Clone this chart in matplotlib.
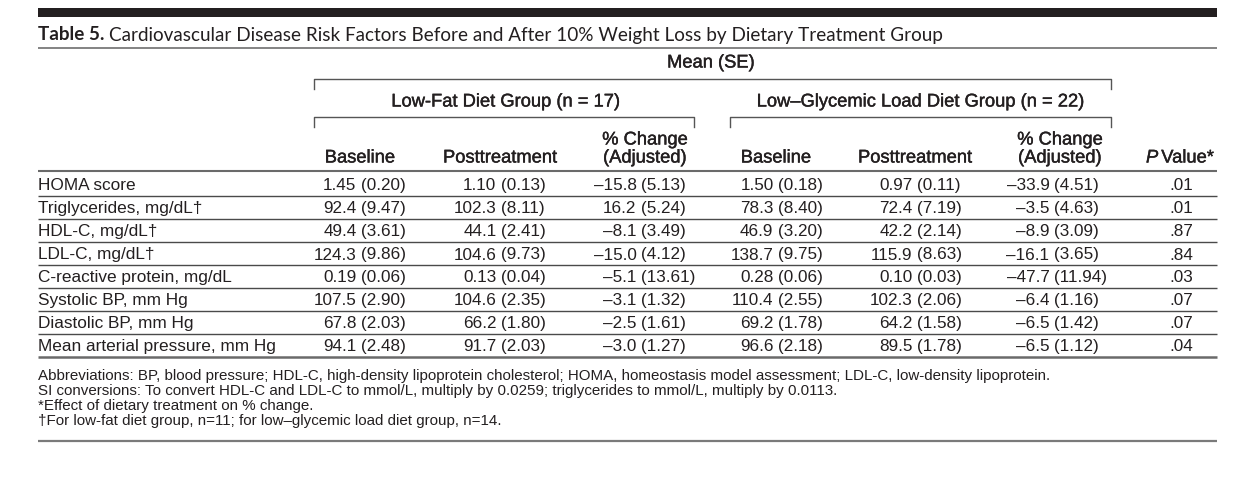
import matplotlib
matplotlib.use("Agg")
import matplotlib.pyplot as plt
import matplotlib.patheffects as pe

# ---------------- data ----------------
title_bold = "Table 5."
title_rest = "Cardiovascular Disease Risk Factors Before and After 10% Weight Loss by Dietary Treatment Group"
spanner = "Mean (SE)"
groups = ["Low-Fat Diet Group (n = 17)", "Low\u2013Glycemic Load Diet Group (n = 22)"]
col_heads = ["Baseline", "Posttreatment", "% Change\n(Adjusted)",
             "Baseline", "Posttreatment", "% Change\n(Adjusted)"]

row_labels = ["HOMA score", "Triglycerides, mg/dL\u2020", "HDL-C, mg/dL\u2020", "LDL-C, mg/dL\u2020",
              "C-reactive protein, mg/dL", "Systolic BP, mm Hg", "Diastolic BP, mm Hg",
              "Mean arterial pressure, mm Hg"]
row_decimals = [2, 1, 1, 1, 2, 1, 1, 1]

lf_base = [1.45, 92.4, 49.4, 124.3, 0.19, 107.5, 67.8, 94.1]
lf_base_se = [0.20, 9.47, 3.61, 9.86, 0.06, 2.90, 2.03, 2.48]
lf_post = [1.10, 102.3, 44.1, 104.6, 0.13, 104.6, 66.2, 91.7]
lf_post_se = [0.13, 8.11, 2.41, 9.73, 0.04, 2.35, 1.80, 2.03]
lf_chg = [-15.8, 16.2, -8.1, -15.0, -5.1, -3.1, -2.5, -3.0]
lf_chg_se = [5.13, 5.24, 3.49, 4.12, 13.61, 1.32, 1.61, 1.27]

lg_base = [1.50, 78.3, 46.9, 138.7, 0.28, 110.4, 69.2, 96.6]
lg_base_se = [0.18, 8.40, 3.20, 9.75, 0.06, 2.55, 1.78, 2.18]
lg_post = [0.97, 72.4, 42.2, 115.9, 0.10, 102.3, 64.2, 89.5]
lg_post_se = [0.11, 7.19, 2.14, 8.63, 0.03, 2.06, 1.58, 1.78]
lg_chg = [-33.9, -3.5, -8.9, -16.1, -47.7, -6.4, -6.5, -6.5]
lg_chg_se = [4.51, 4.63, 3.09, 3.65, 11.94, 1.16, 1.42, 1.12]

p_values = [0.01, 0.01, 0.87, 0.84, 0.03, 0.07, 0.07, 0.04]

footnotes = [
    "Abbreviations: BP, blood pressure; HDL-C, high-density lipoprotein cholesterol; HOMA, homeostasis model assessment; LDL-C, low-density lipoprotein.",
    "SI conversions: To convert HDL-C and LDL-C to mmol/L, multiply by 0.0259; triglycerides to mmol/L, multiply by 0.0113.",
    "*Effect of dietary treatment on % change.",
    "\u2020For low-fat diet group, n=11; for low\u2013glycemic load diet group, n=14.",
]

# ---------------- layout ----------------
W, H = 1252, 481
fig = plt.figure(figsize=(W / 100, H / 100), dpi=100)
ax = fig.add_axes([0, 0, 1, 1])
ax.set_xlim(0, W)
ax.set_ylim(H, 0)
ax.axis("off")
fig.canvas.draw()
r = fig.canvas.get_renderer()

TXT = "#231f20"
BODY = "Liberation Sans"
TFONT = "Lato"
L, R = 38, 1217

def tw(s, **kw):
    t = ax.text(0, 0, s, **kw)
    w = t.get_window_extent(renderer=r).width
    t.remove()
    return w

def fmt(v, d):
    s = f"{abs(v):.{d}f}"
    return ("\u2013" + s) if v < 0 else s

def hline(y, x0=L, x1=R, lw=1.0, c="#6d6d6d"):
    ax.plot([x0, x1], [y, y], color=c, lw=lw, solid_capstyle="butt")

# top bar and title
ax.add_patch(plt.Rectangle((L, 9), R - L, 9, color=TXT, lw=0))
TS = 13.6
ax.text(L, 35, title_bold, fontsize=TS, fontfamily=TFONT, fontweight="bold",
        color=TXT, va="center", ha="left")
x_after = L + tw(title_bold, fontsize=TS, fontfamily=TFONT, fontweight="bold") + 5
ax.text(x_after, 35, title_rest, fontsize=TS, fontfamily=TFONT, color=TXT, va="center", ha="left")
hline(48.5, lw=1.3, c="#7a7a7a")

HFS = 13.2
HPE = [pe.withStroke(linewidth=0.3, foreground=TXT)]
hkw = dict(fontsize=HFS, fontfamily=BODY, color=TXT, va="center", path_effects=HPE)

ax.text(711, 64, spanner, ha="center", **hkw)

def bracket(x0, x1, y, drop=10):
    ax.plot([x0, x0, x1, x1], [y + drop, y, y, y + drop], color="#555555", lw=1.0)

bracket(313.5, 1111, 79.5)
bracket(313.5, 694, 117.5)
bracket(729.5, 1111, 117.5)
ax.text(506, 103, groups[0], ha="center", **hkw)
ax.text(921, 103, groups[1], ha="center", **hkw)

head_x = [360, 500, 645, 776, 915, 1060]
for hx, h in zip(head_x, col_heads):
    lines = h.split("\n")
    if len(lines) == 1:
        ax.text(hx, 159, lines[0], ha="center", **hkw)
    else:
        ax.text(hx, 141, lines[0], ha="center", **hkw)
        ax.text(hx, 159, lines[1], ha="center", **hkw)

# P Value* header (italic P)
wp = tw("P", fontsize=HFS, fontfamily=BODY, fontstyle="italic")
wv = tw("Value*", fontsize=HFS, fontfamily=BODY)
pcx = 1180
x0 = pcx - (wp + 3 + wv) / 2
ax.text(x0, 159, "P", ha="left", fontstyle="italic", **hkw)
ax.text(x0 + wp + 3, 159, "Value*", ha="left", **hkw)

hline(171.5, lw=1.5, c="#6a6a6a")

# body
BFS = 12.3
LFS = 12.4
bkw = dict(fontsize=BFS, fontfamily=BODY, color=TXT, va="center")
se_w = tw("(0.00)", **bkw)
sp_w = tw("0", **bkw) * 0.5
row_y0, row_h = 186, 23
col_ends = [406, 546, 686, 823, 962, 1099]
paren_x = [e - se_w for e in col_ends]
cols = [(lf_base, lf_base_se, None), (lf_post, lf_post_se, None), (lf_chg, lf_chg_se, 1),
        (lg_base, lg_base_se, None), (lg_post, lg_post_se, None), (lg_chg, lg_chg_se, 1)]
for i, lab in enumerate(row_labels):
    y = row_y0 + i * row_h
    ax.text(L, y, lab, fontsize=LFS, fontfamily=BODY, color=TXT, va="center", ha="left")
    for px, (m, se, d) in zip(paren_x, cols):
        dd = row_decimals[i] if d is None else d
        ax.text(px - sp_w, y, fmt(m[i], dd), ha="right", **bkw)
        ax.text(px, y, f"({se[i]:.2f})", ha="left", **bkw)
    ax.text(1181, y, f"{p_values[i]:.2f}".lstrip("0"), ha="center", **bkw)
    sep_y = y - 1 + row_h / 2
    if i < len(row_labels) - 1:
        hline(sep_y, lw=1.0, c="#4a4a4a")
    else:
        hline(sep_y + 0.5, lw=1.8, c="#6a6a6a")

# footnotes
FFS = 10.9
for k, fn in enumerate(footnotes):
    ax.text(L, 376 + k * 15, fn, fontsize=FFS, fontfamily=BODY, color=TXT, va="center", ha="left")

hline(442, lw=1.6, c="#7a7a7a")

fig.savefig("out.png", dpi=100, facecolor="white")
